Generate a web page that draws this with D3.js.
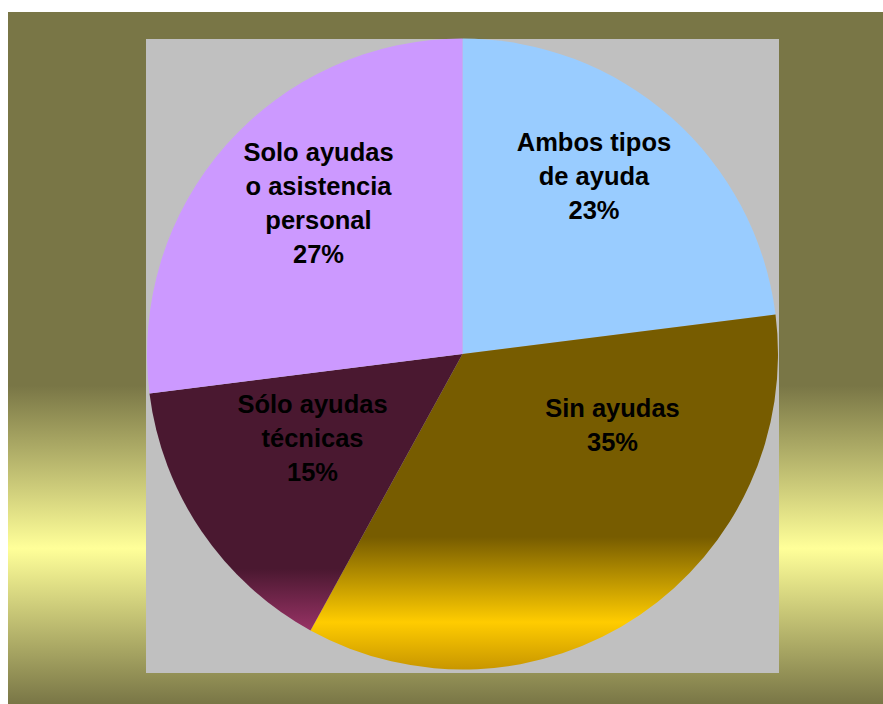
<!DOCTYPE html>
<html lang="es">
<head>
<meta charset="UTF-8">
<title>Tipos de ayuda</title>
<script src="https://d3js.org/d3.v7.min.js"></script>
<style>
  html, body { margin: 0; padding: 0; background: #ffffff; }
  svg { display: block; }
  .lbl { font-family: "Liberation Sans", Arial, sans-serif; font-weight: bold; font-size: 25.5px; fill: #000; }
</style>
</head>
<body>
<div id="chart"></div>
<script>
// Data
var categories = ["Ambos tipos de ayuda", "Sin ayudas", "Sólo ayudas técnicas", "Solo ayudas o asistencia personal"];
var values = [23, 35, 15, 27];
var labelLines = [
  ["Ambos tipos", "de ayuda", "23%"],
  ["Sin ayudas", "35%"],
  ["Sólo ayudas", "técnicas", "15%"],
  ["Solo ayudas", "o asistencia", "personal", "27%"]
];

var W = 883, H = 704;
var cx = 462.5, cy = 354, R = 315.5;

var svg = d3.select("#chart").append("svg")
  .attr("width", W)
  .attr("height", H);

var defs = svg.append("defs");

// frame gradient (olive -> pale yellow -> olive)
var bg = defs.append("linearGradient")
  .attr("id", "bgGrad")
  .attr("x1", 0).attr("y1", 0).attr("x2", 0).attr("y2", 1);
bg.append("stop").attr("offset", 0).attr("stop-color", "#797646");
bg.append("stop").attr("offset", 0.54).attr("stop-color", "#797646");
bg.append("stop").attr("offset", 0.775).attr("stop-color", "#ffff99");
bg.append("stop").attr("offset", 1).attr("stop-color", "#797646");

// slice gradients, in pie coordinates (y from -R to R)
function sliceGrad(id, stops) {
  var g = defs.append("linearGradient")
    .attr("id", id)
    .attr("gradientUnits", "userSpaceOnUse")
    .attr("x1", 0).attr("y1", -R).attr("x2", 0).attr("y2", R);
  stops.forEach(function (s) {
    g.append("stop").attr("offset", s[0]).attr("stop-color", s[1]);
  });
}
sliceGrad("gBrown", [[0, "#775c00"], [0.79, "#775c00"], [0.925, "#ffcc00"], [1, "#c89600"]]);
sliceGrad("gMaroon", [[0, "#4a1830"], [0.84, "#4a1830"], [0.94, "#993366"], [1, "#7a2850"]]);

var fills = ["#99ccff", "url(#gBrown)", "url(#gMaroon)", "#cc99ff"];

svg.append("rect")
  .attr("x", 8).attr("y", 12)
  .attr("width", W - 8).attr("height", H - 12)
  .attr("fill", "url(#bgGrad)");

// plot area
svg.append("rect")
  .attr("x", 146).attr("y", 39)
  .attr("width", 633).attr("height", 634)
  .attr("fill", "#c0c0c0");

var pie = d3.pie().sort(null).value(function (d) { return d; });
var arc = d3.arc().innerRadius(0).outerRadius(R);

var g = svg.append("g")
  .attr("transform", "translate(" + cx + "," + cy + ")");

g.selectAll("path")
  .data(pie(values))
  .enter().append("path")
  .attr("d", arc)
  .attr("fill", function (d, i) { return fills[i]; });

// label placement (first baseline, centre x) - set by hand like the original
var labelPos = [
  { x: 594, y: 151 },
  { x: 612.5, y: 417 },
  { x: 312.5, y: 413 },
  { x: 318.5, y: 161 }
];
var lineH = 34;

labelLines.forEach(function (lines, i) {
  var t = svg.append("text")
    .attr("class", "lbl")
    .attr("text-anchor", "middle")
    .attr("x", labelPos[i].x)
    .attr("y", labelPos[i].y);
  lines.forEach(function (s, j) {
    t.append("tspan")
      .attr("x", labelPos[i].x)
      .attr("dy", j === 0 ? 0 : lineH)
      .text(s);
  });
});
</script>
</body>
</html>
